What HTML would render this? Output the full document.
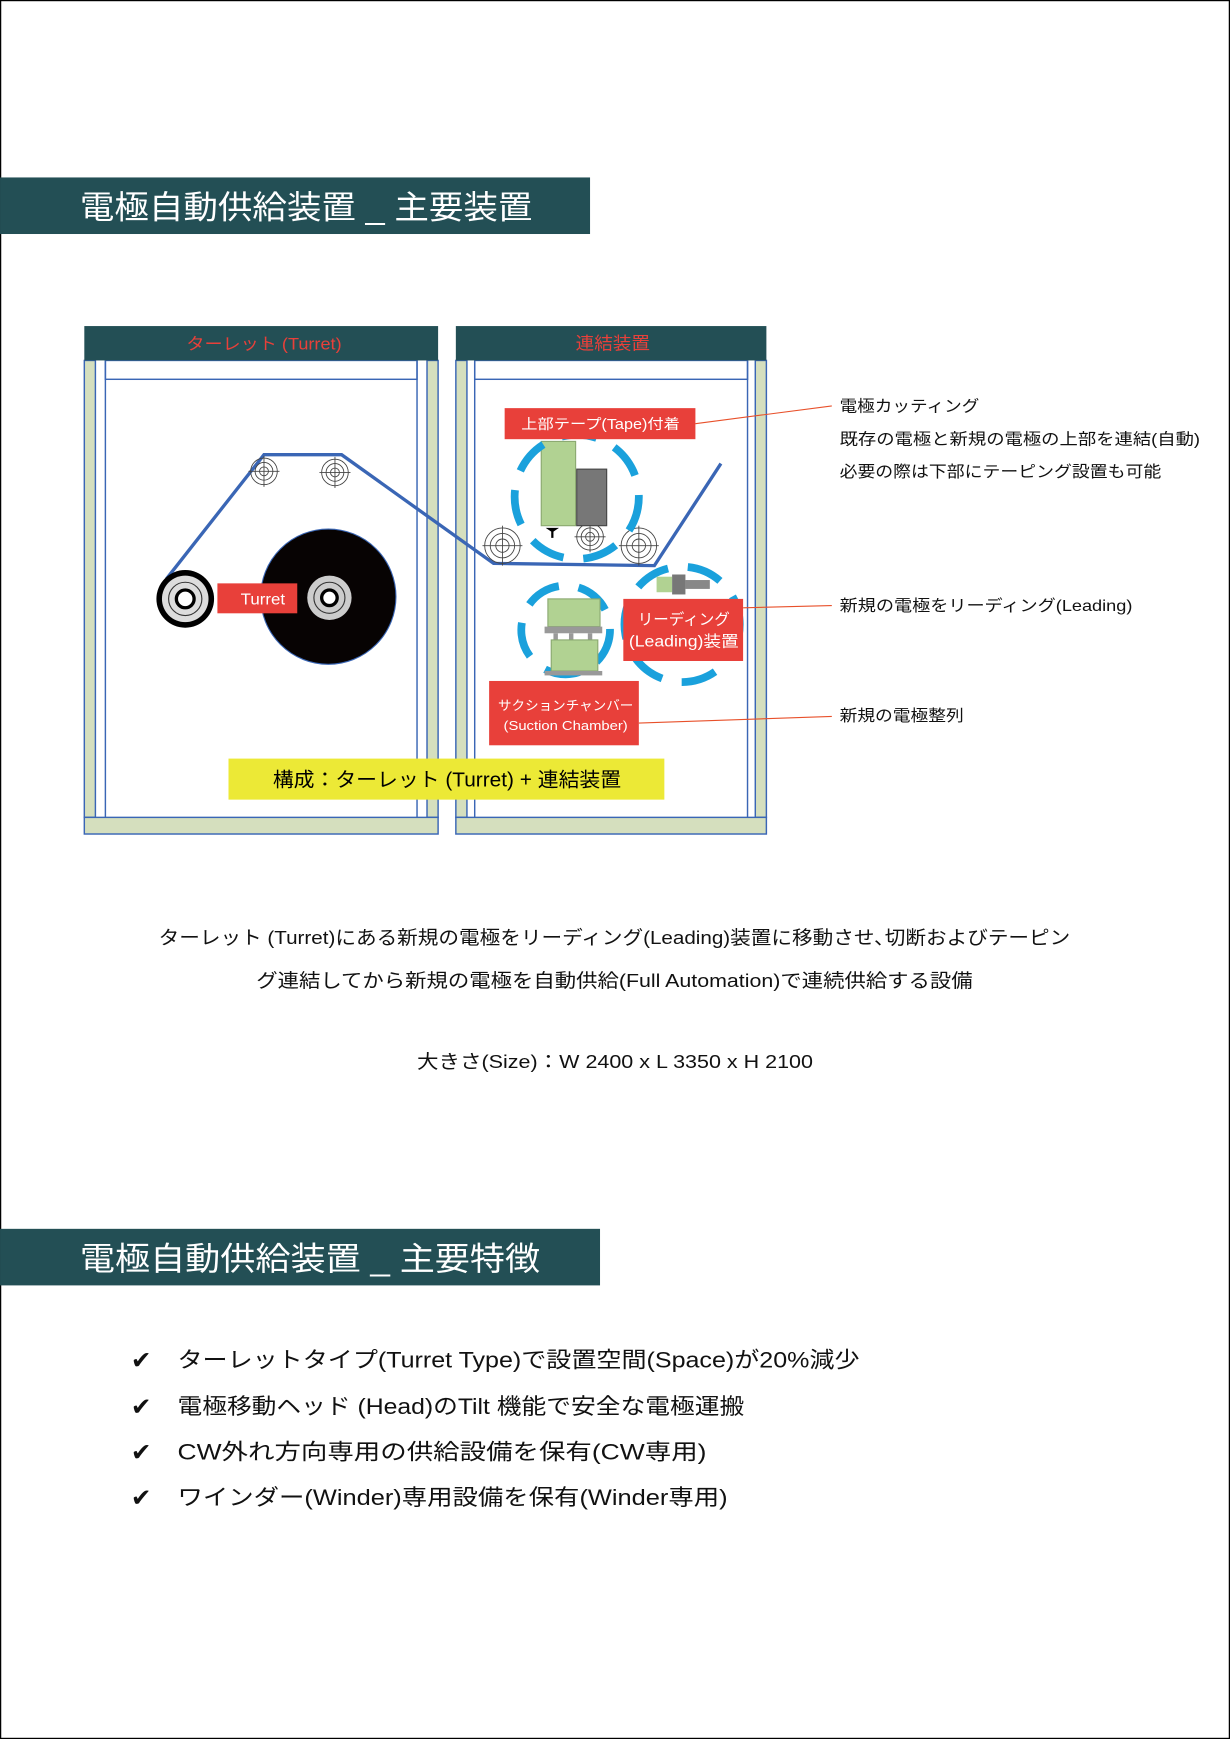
<!DOCTYPE html>
<html><head><meta charset="utf-8"><style>
html,body{margin:0;padding:0;background:#fff}
svg{display:block}
text{font-family:"Liberation Sans","Noto Sans CJK JP",sans-serif}
</style></head><body>
<svg width="1230" height="1739" viewBox="0 0 1109 1568" xmlns="http://www.w3.org/2000/svg">
<rect x="0.5" y="0.5" width="1108" height="1567" fill="#fff" stroke="#000" stroke-width="1.2"/>
<rect x="0" y="160" width="532" height="51" fill="#234f55"/>
<text x="72" y="197" font-size="29" fill="#fff" textLength="408" lengthAdjust="spacingAndGlyphs">電極自動供給装置 _ 主要装置</text>

<g stroke="#3a66b5" stroke-width="1.3">
<rect x="76" y="325" width="10" height="412" fill="#d5dfbe"/>
<rect x="385" y="325" width="10" height="412" fill="#d5dfbe"/>
<rect x="76" y="737" width="319" height="15" fill="#d5dfbe"/>
<line x1="95" y1="325" x2="95" y2="737"/><line x1="376" y1="325" x2="376" y2="737"/>
<rect x="95" y="325" width="281" height="17" fill="none"/>
<rect x="411" y="325" width="10" height="412" fill="#d5dfbe"/>
<rect x="681" y="325" width="10" height="412" fill="#d5dfbe"/>
<rect x="411" y="737" width="280" height="15" fill="#d5dfbe"/>
<line x1="428" y1="325" x2="428" y2="737"/><line x1="674" y1="325" x2="674" y2="737"/>
<rect x="428" y="325" width="246" height="17" fill="none"/>
</g>
<rect x="76" y="294" width="319" height="31" fill="#234f55"/>
<text x="168" y="315" font-size="15" fill="#e8403a" textLength="140" lengthAdjust="spacingAndGlyphs">ターレット (Turret)</text>
<rect x="411" y="294" width="280" height="31" fill="#234f55"/>
<text x="519" y="315" font-size="16" fill="#e8403a" textLength="67" lengthAdjust="spacingAndGlyphs">連結装置</text>

<circle cx="296" cy="538" r="61" fill="#070303" stroke="#3a66b5" stroke-width="1"/>
<polyline points="150,522 238,410 308,410 445,508 590,510 650,418" fill="none" stroke="#3a66b5" stroke-width="3"/>
<g fill="none" stroke="#444" stroke-width="0.8">
<g transform="translate(238,425)"><circle r="12"/><circle r="8"/><circle r="4"/><line x1="-14" y1="0" x2="14" y2="0"/><line x1="0" y1="-14" x2="0" y2="14"/></g>
<g transform="translate(302,426)"><circle r="12"/><circle r="8"/><circle r="4"/><line x1="-14" y1="0" x2="14" y2="0"/><line x1="0" y1="-14" x2="0" y2="14"/></g>
<g transform="translate(453,492)"><circle r="16"/><circle r="11"/><circle r="6"/><line x1="-18" y1="0" x2="18" y2="0"/><line x1="0" y1="-18" x2="0" y2="18"/></g>
<g transform="translate(532,484)"><circle r="12"/><circle r="8"/><circle r="4"/><line x1="-14" y1="0" x2="14" y2="0"/><line x1="0" y1="-14" x2="0" y2="14"/></g>
<g transform="translate(576,492)"><circle r="16"/><circle r="11"/><circle r="6"/><line x1="-18" y1="0" x2="18" y2="0"/><line x1="0" y1="-18" x2="0" y2="18"/></g>
</g>
<g transform="translate(167,540)"><circle r="26" fill="#000"/><circle r="21" fill="#ddd"/><circle r="15" fill="none" stroke="#333"/><circle r="8" fill="#fff" stroke="#000" stroke-width="3"/></g>
<g transform="translate(297,539)"><circle r="20" fill="#ccc"/><circle r="14" fill="none" stroke="#333"/><circle r="7" fill="#fff" stroke="#000" stroke-width="3"/></g>
<rect x="196" y="526" width="72" height="27" fill="#e8403a"/>
<text x="217" y="545" font-size="14" fill="#fff" textLength="40" lengthAdjust="spacingAndGlyphs">Turret</text>

<rect x="488" y="398" width="31" height="76" fill="#b1d292" stroke="#8aa870"/>
<rect x="520" y="423" width="27" height="51" fill="#777" stroke="#444"/>
<path d="M492 476h12l-6 4z M497 479h2v6h-2z" fill="#000"/>
<g fill="none" stroke="#1aa1dc" stroke-width="7" stroke-dasharray="32 18">
<circle cx="520" cy="448" r="56"/>
<circle cx="615" cy="563" r="52"/>
<circle cx="510" cy="568" r="40"/>
</g>
<rect x="592" y="520" width="14" height="14" fill="#b1d292"/><rect x="606" y="518" width="12" height="18" fill="#777"/><rect x="618" y="523" width="22" height="8" fill="#888"/>
<rect x="494" y="540" width="47" height="25" fill="#b1d292" stroke="#8aa870"/>
<rect x="491" y="565" width="52" height="6" fill="#999"/>
<rect x="499" y="571" width="4" height="6" fill="#999"/><rect x="513" y="571" width="4" height="6" fill="#999"/><rect x="530" y="571" width="4" height="6" fill="#999"/>
<rect x="497" y="577" width="42" height="28" fill="#b1d292" stroke="#8aa870"/>
<rect x="491" y="605" width="52" height="4" fill="#999"/>

<rect x="455" y="368" width="172" height="28" fill="#e8403a"/>
<text x="470" y="387" font-size="13" fill="#fff" textLength="143" lengthAdjust="spacingAndGlyphs">上部テープ(Tape)付着</text>
<rect x="562" y="540" width="108" height="56" fill="#e8403a"/>
<text x="575" y="563" font-size="14" fill="#fff" textLength="83" lengthAdjust="spacingAndGlyphs">リーディング</text>
<text x="567" y="583" font-size="14" fill="#fff" textLength="99" lengthAdjust="spacingAndGlyphs">(Leading)装置</text>
<rect x="441" y="614" width="135" height="58" fill="#e8403a"/>
<text x="449" y="640" font-size="12" fill="#fff" textLength="122" lengthAdjust="spacingAndGlyphs">サクションチャンバー</text>
<text x="454" y="658" font-size="12" fill="#fff" textLength="112" lengthAdjust="spacingAndGlyphs">(Suction Chamber)</text>
<g stroke="#e8502a" stroke-width="1">
<line x1="627" y1="382" x2="750" y2="366"/>
<line x1="670" y1="548" x2="750" y2="546"/>
<line x1="576" y1="652" x2="750" y2="646"/>
</g>
<rect x="206" y="684" width="393" height="37" fill="#ece936"/>
<text x="246" y="709" font-size="18" fill="#000" textLength="314" lengthAdjust="spacingAndGlyphs">構成：ターレット (Turret) + 連結装置</text>

<g font-size="14.5" fill="#111">
<text x="757" y="371" textLength="126" lengthAdjust="spacingAndGlyphs">電極カッティング</text>
<text x="757" y="401" textLength="325" lengthAdjust="spacingAndGlyphs">既存の電極と新規の電極の上部を連結(自動)</text>
<text x="757" y="430" textLength="290" lengthAdjust="spacingAndGlyphs">必要の際は下部にテーピング設置も可能</text>
<text x="757" y="551" textLength="264" lengthAdjust="spacingAndGlyphs">新規の電極をリーディング(Leading)</text>
<text x="757" y="650" textLength="112" lengthAdjust="spacingAndGlyphs">新規の電極整列</text>
</g>

<g font-size="17" fill="#111">
<text x="143" y="851" textLength="822" lengthAdjust="spacingAndGlyphs">ターレット (Turret)にある新規の電極をリーディング(Leading)装置に移動させ､切断およびテーピン</text>
<text x="231" y="890" textLength="646" lengthAdjust="spacingAndGlyphs">グ連結してから新規の電極を自動供給(Full Automation)で連続供給する設備</text>
<text x="376" y="963" textLength="357" lengthAdjust="spacingAndGlyphs">大きさ(Size)：W 2400 x L 3350 x H 2100</text>
</g>

<rect x="0" y="1108" width="541" height="51" fill="#234f55"/>
<text x="72" y="1145" font-size="29" fill="#fff" textLength="415" lengthAdjust="spacingAndGlyphs">電極自動供給装置 _ 主要特徴</text>

<g font-size="20" fill="#111">
<text x="118" y="1234" font-size="22">✔</text><text x="160" y="1233" textLength="615" lengthAdjust="spacingAndGlyphs">ターレットタイプ(Turret Type)で設置空間(Space)が20%減少</text>
<text x="118" y="1276" font-size="22">✔</text><text x="160" y="1275" textLength="511" lengthAdjust="spacingAndGlyphs">電極移動ヘッド (Head)のTilt 機能で安全な電極運搬</text>
<text x="118" y="1317" font-size="22">✔</text><text x="160" y="1316" textLength="477" lengthAdjust="spacingAndGlyphs">CW外れ方向専用の供給設備を保有(CW専用)</text>
<text x="118" y="1358" font-size="22">✔</text><text x="160" y="1357" textLength="496" lengthAdjust="spacingAndGlyphs">ワインダー(Winder)専用設備を保有(Winder専用)</text>
</g>
</svg>
</body></html>
